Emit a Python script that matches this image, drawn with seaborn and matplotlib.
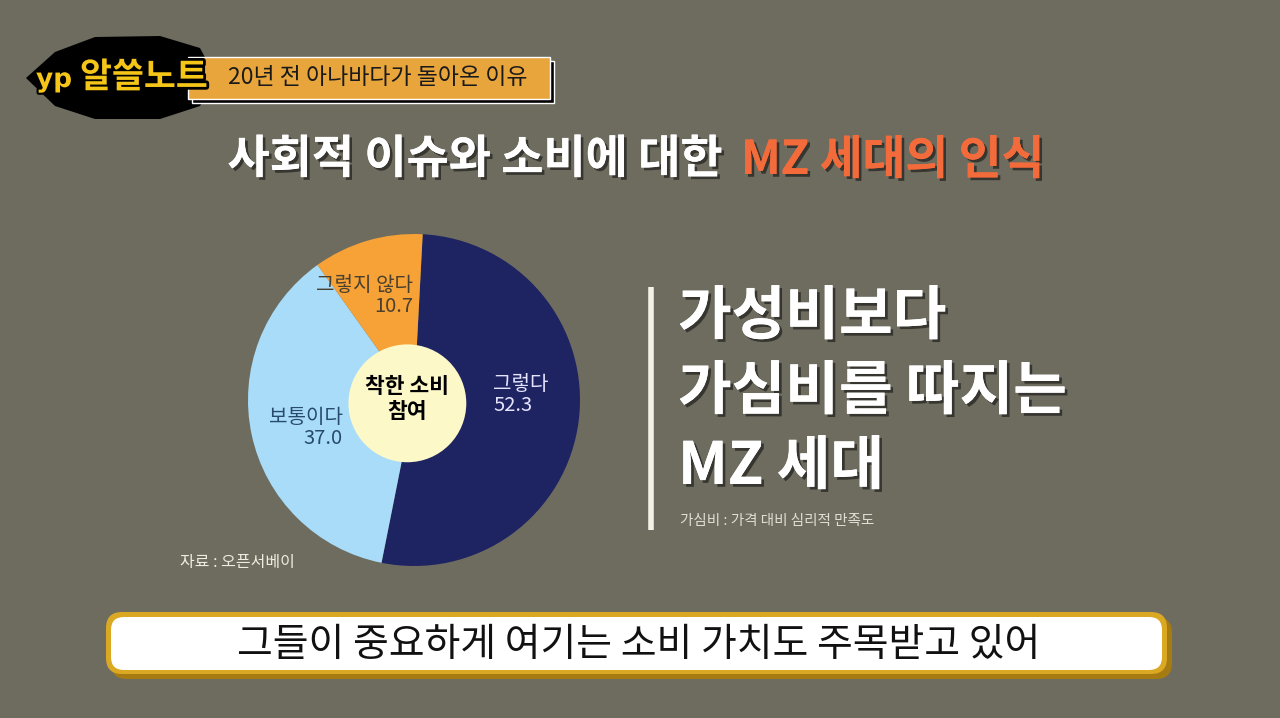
import seaborn as sns
import matplotlib.pyplot as plt
import matplotlib.patheffects as pe
from matplotlib.patches import FancyBboxPatch, Polygon, Circle, Rectangle

# data
answers = ['그렇다', '보통이다', '그렇지 않다']
shares = [52.3, 37.0, 10.7]
pie_colors = ['#1e2361', '#a8dcf8', '#f6a236']
label_colors = ['#e4e4ff', '#284a6c', '#4a4030']
center_text = '착한 소비\n참여'
source_text = '자료 : 오픈서베이'
badge_text = '알쓸노트'
topic_text = '20년 전 아나바다가 돌아온 이유'
title_white = '사회적 이슈와 소비에 대한'
title_orange = 'MZ 세대의 인식'
side_lines = ['가성비보다', '가심비를 따지는', 'MZ 세대']
side_note = '가심비 : 가격 대비 심리적 만족도'
caption = '그들이 중요하게 여기는 소비 가치도 주목받고 있어'

sns.set_theme(style='white')
plt.rcParams['font.family'] = ['Noto Sans CJK KR', 'DejaVu Sans']

bg = '#6e6c5f'
fig = plt.figure(figsize=(12.8, 7.18), dpi=100, facecolor=bg)

ax = fig.add_axes([0, 0, 1, 1])
ax.set_xlim(0, 1280)
ax.set_ylim(718, 0)
ax.axis('off')
ax.set_facecolor(bg)

shadow = [pe.withSimplePatchShadow(offset=(2, -2), shadow_rgbFace='black', alpha=0.5), pe.Normal()]

# logo
blob = Polygon([(26, 78), (55, 52), (95, 37), (160, 36), (200, 48), (216, 78),
                (200, 106), (160, 119), (95, 119), (55, 106)],
               closed=True, facecolor='black', edgecolor='none', zorder=2)
ax.add_patch(blob)
ax.add_patch(Rectangle((192, 61), 362, 42, facecolor='black', zorder=2))
ax.add_patch(Rectangle((188, 57), 362, 42, facecolor='#e8a53c', zorder=3))
ax.text(36, 80, 'yp', color='#f5c518', fontsize=19, fontweight='bold', va='center',
        ha='left', family=['DejaVu Sans'], zorder=4,
        path_effects=[pe.withStroke(linewidth=3, foreground='black')])
ax.text(80, 77, badge_text, color='#f5c518', fontsize=25, fontweight='black', va='center',
        ha='left', zorder=5, path_effects=[pe.withStroke(linewidth=4, foreground='black')])
ax.text(228, 78, topic_text, color='#1a1a1a', fontsize=16.5, fontweight='medium',
        va='center', ha='left', zorder=4)

# title
ax.text(722, 160, title_white, color='white', fontsize=33, fontweight='black',
        va='center', ha='right', path_effects=shadow)
ax.text(741, 160, title_orange, color='#f46b3b', fontsize=33.5, fontweight='black',
        va='center', ha='left', path_effects=shadow)

# right side text
ax.plot([651, 651], [287, 530], color='#f2f2ea', lw=4, solid_capstyle='butt')
for i, line in enumerate(side_lines):
    ax.text(678, 317 + i * 75, line, color='white', fontsize=42, fontweight='black',
            va='center', ha='left', path_effects=shadow)
ax.text(680, 521, side_note, color='#deded4', fontsize=10.5, va='center', ha='left')

# source
ax.text(180, 562, source_text, color='#ececE2', fontsize=11.5, va='center', ha='left')

# caption box
ax.add_patch(FancyBboxPatch((111, 617), 1061, 62, boxstyle='round,pad=0,rounding_size=16',
                            facecolor='#a67c12', edgecolor='none', zorder=2))
ax.add_patch(FancyBboxPatch((106, 612), 1061, 62, boxstyle='round,pad=0,rounding_size=16',
                            facecolor='#dba823', edgecolor='none', zorder=3))
ax.add_patch(FancyBboxPatch((111, 617), 1051, 53, boxstyle='round,pad=0,rounding_size=13',
                            facecolor='white', edgecolor='none', zorder=4))
ax.text(639, 645, caption, color='#111111', fontsize=28, va='center', ha='center', zorder=5)

# pie
cx, cy, r = 414, 400, 166
pax = fig.add_axes([(cx - r) / 1280, 1 - (cy + r) / 718, 2 * r / 1280, 2 * r / 718])
pax.pie(shares, colors=pie_colors, startangle=87, counterclock=False,
        wedgeprops=dict(linewidth=0))
pax.add_patch(Circle((-0.04, -0.02), 0.355, facecolor='#fdf8c8', edgecolor='none', zorder=5))
pax.set_aspect('equal')
pax.set_xlim(-1, 1)
pax.set_ylim(-1, 1)

# pie labels in pixel coords (overlay)
top = fig.add_axes([0, 0, 1, 1], facecolor='none')
top.set_xlim(0, 1280)
top.set_ylim(718, 0)
top.axis('off')
label_pos = [(493, 395, 'left'), (343, 428, 'right'), (413, 296, 'right')]
for name, val, col, (x, y, ha) in zip(answers, shares, label_colors, label_pos):
    top.text(x, y, f'{name}\n{val:.1f}', color=col, fontsize=14.5, va='center', ha=ha,
             linespacing=1.05)
top.text(407, 399, center_text, color='black', fontsize=15.5, fontweight='bold',
         va='center', ha='center', linespacing=1.2)

fig.savefig('out.png', dpi=100, facecolor=bg)
